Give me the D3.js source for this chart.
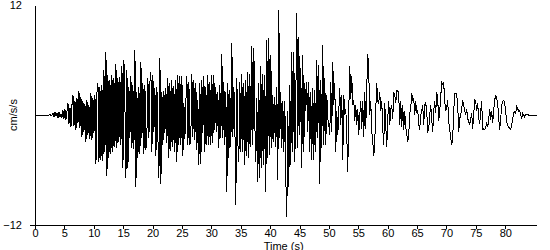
<!DOCTYPE html>
<html>
<head>
<meta charset="utf-8">
<script src="https://cdn.jsdelivr.net/npm/d3@7"></script>
<style>
  html, body { margin: 0; padding: 0; background: #fff; }
  svg { display: block; }
  text { font-family: Arial, "Liberation Sans", sans-serif; font-size: 11px; fill: #000; }
</style>
</head>
<body>
<svg id="chart" width="550" height="250"></svg>
<script>
'use strict';
// sampling step of the record, seconds
const dt = 0.17;
// acceleration, cm/s/s, one sample per dt from t = 0
const accel = [
  0,0,0,0,0,0,0,0,0,0,
  0,-0.1,0,-0.1,0,0.1,-0.1,0,0.2,-0.2,
  0.3,-0.1,0.2,-0.3,0.3,-0.2,0.1,-0.3,0.5,-0.4,
  0.6,-0.5,0.4,1.3,-1.0,0.8,-1.3,1.1,2.2,-1.2,
  1.5,-1.6,1.8,-0.9,2.6,-1.4,2.0,-2.4,1.5,-1.8,
  1.2,-2.9,1.6,-2.2,1.1,-2.6,2.4,-2.7,1.8,-2.0,
  2.2,-5.3,2.5,3.5,-5.1,3.0,-4.9,3.3,-5.0,4.9,
  -4.0,6.9,-6.7,4.4,-4.7,3.8,-4.2,4.4,-4.0,4.0,
  -3.5,5.6,-3.6,4.0,-2.9,4.1,-3.3,5.3,-5.8,6.0,
  1.0,-6.9,4.9,-5.8,3.0,-2.5,4.2,-3.6,3.3,-3.7,
  7.1,-7.8,2.5,-4.7,3.1,-4.2,5.8,-2.5,3.5,-4.2,
  3.3,-3.8,-2.0,4.0,-2.5,3.6,4.7,-4.0,4.4,-1.8,
  2.9,-4.5,3.0,-2.5,-6.9,6.2,-7.5,2.5,-3.3,2.6,
  -2.0,2.9,-3.0,4.0,-4.7,3.5,-3.9,3.8,-3.5,3.2,
  -4.0,3.8,-5.1,4.4,-3.3,4.2,-3.3,4.2,-4.5,1.3,
  -2.6,1.5,4.2,-3.3,3.6,-3.3,-2.0,4.5,-2.4,3.8,
  -2.7,3.5,-3.8,1.6,-5.5,3.5,-5.3,3.8,-2.0,4.2,
  -4.0,3.0,-3.3,4.4,-3.3,3.6,-3.3,4.4,-3.0,4.4,
  -1.6,3.0,-1.8,2.5,-3.6,3.3,-2.5,6.7,-2.5,3.6,
  -3.3,2.5,-8.4,3.5,-4.7,2.7,-3.5,7.8,-2.4,3.1,
  -1.0,-9.8,4.0,-3.0,-5.1,3.6,-4.0,4.5,-4.0,3.5,
  -5.5,3.8,-4.5,4.7,-4.7,4.5,-3.5,7.5,-3.3,7.3,
  -1.1,-5.1,1.8,-7.3,3.5,-6.9,5.3,-5.8,4.5,-5.5,
  4.4,-8.4,8.2,-4.7,8.4,-4.4,6.5,-3.6,2.2,-2.9,
  2.0,-3.5,3.1,-7.1,11.5,-2.5,2.5,-3.6,1.5,-4.0,
  1.5,-7.1,-11.1,0.4,-7.8,3.3,-5.5,6.9,-4.0,6.9,
  -5.1,2.0,11.1,-3.6,8.5,-2.2,5.1,-5.8,6.5,-4.0,
  3.5,0.4,3.6,-1.8,3.6,-4.0,2.5,-4.9,2.9,-4.9,
  2.7,-4.0,6.0,-2.5,5.5,-7.5,3.8,-3.6,7.6,-3.3,
  4.0,-3.3,2.2,-0.4,-1.1,-2.2,3.6,-1.8,5.8,1.1,
  3.5,-4.0,0.4,-2.2,0.4,2.9,-1.1,2.2,-4.9,2.2,
  0,0.7,-2.2,-6.2,0.4,5.3,1.8,4.2,1.1,1.6,
  -0.7,1.1,-1.1,0.7,-2.2,0,1.5,-1.5,1.5,-2.4,
  2.5,-1.5,3.1,6.7,4.7,0,1.5,-1.8,-2.9,-4.5,
  -3.0,0.5,3.5,1.5,1.3,2.5,0.4,1.5,-1.5,-3.3,
  1.3,-1.1,-3.5,-0.4,1.5,-1.1,0.7,1.1,-0.4,2.5,
  2.2,1.3,2.7,2.7,2.2,-1.1,1.5,-1.3,1.1,-1.6,
  0.4,-1.3,-2.0,-2.9,-2.2,0.2,0.7,2.4,1.5,1.8,
  0,1.5,0.2,0.5,-1.0,-1.6,0,0.4,1.1,-1.1,
  1.1,1.3,0.4,-1.8,-1.6,0,1.1,-0.5,-1.8,0.4,
  1.5,0.2,2.5,1.8,-0.7,0.4,2.0,3.5,3.3,3.5,
  1.5,0.4,0.8,1.6,-0.7,-1.5,-2.5,-3.3,-2.5,0.4,
  2.4,2.4,2.2,1.1,-1.8,-0.4,0,0.7,1.6,1.1,
  0.5,0,0.7,-0.4,-0.7,-1.1,-0.5,0.2,-1.5,0,
  1.6,1.5,0.4,1.3,-0.4,-1.0,0.4,1.5,-1.6,-1.5,
  -1.6,-1.3,-0.9,-1.3,-0.5,0.7,-0.5,0.4,-0.9,0.5,
  1.6,2.2,1.8,1.3,-0.4,-1.6,-0.5,1.1,1.5,1.6,
  1.3,0.4,-0.7,-1.1,-1.3,-1.5,-1.6,-1.1,-0.4,0.2,
  0.4,0.2,0.9,0.7,0.4,0.5,0,-0.4,0.2,0,
  -0.2,0,0.1,0.1,0,0,0,0,0,0,
  0,0,0
];
const xTicks = [0, 5, 10, 15, 20, 25, 30, 35, 40, 45, 50, 55, 60, 65, 70, 75, 80];
const yTicks = [-12, 12];
const xLabel = 'Time (s)';
const yLabel = 'cm/s/s';

(() => {
  const svg = d3.select('#chart');
  const mLeft = 35, mRight = 537, mTop = 5, mBottom = 225;

  var x = d3.scaleLinear().domain([0, 85.4]).range([mLeft, mRight]);
  var y = d3.scaleLinear().domain([-12, 12]).range([mBottom, mTop]);

  // trace
  const line = d3.line()
    .x((d, i) => x(i * dt))
    .y(d => y(d));

  svg.append('path')
    .datum(accel)
    .attr('fill', 'none')
    .attr('stroke', '#000')
    .attr('stroke-width', 1)
    .attr('shape-rendering', 'crispEdges')
    .attr('d', line);

  // axes
  var gx = svg.append('g')
    .attr('transform', `translate(0, ${mBottom})`)
    .call(d3.axisBottom(x).tickValues(xTicks).tickSize(4).tickSizeOuter(0).tickPadding(0));
  gx.select('.domain').attr('d', `M${mLeft - 5},0.5H${mRight}`);

  var gy = svg.append('g')
    .attr('transform', `translate(${mLeft}, 0)`)
    .call(d3.axisLeft(y).tickValues(yTicks).tickSize(0).tickSizeOuter(0).tickPadding(13));

  svg.selectAll('.domain, .tick line').attr('stroke', '#000').attr('shape-rendering', 'crispEdges');
  svg.selectAll('.tick text').attr('font-family', null).attr('font-size', null);

  svg.append('text')
    .attr('x', x(42.3))
    .attr('y', 249.5)
    .attr('text-anchor', 'middle')
    .text(xLabel);

  svg.append('text')
    .attr('transform', `translate(17, ${y(0)}) rotate(-90)`)
    .attr('text-anchor', 'middle')
    .text(yLabel);
})();
</script>
</body>
</html>
